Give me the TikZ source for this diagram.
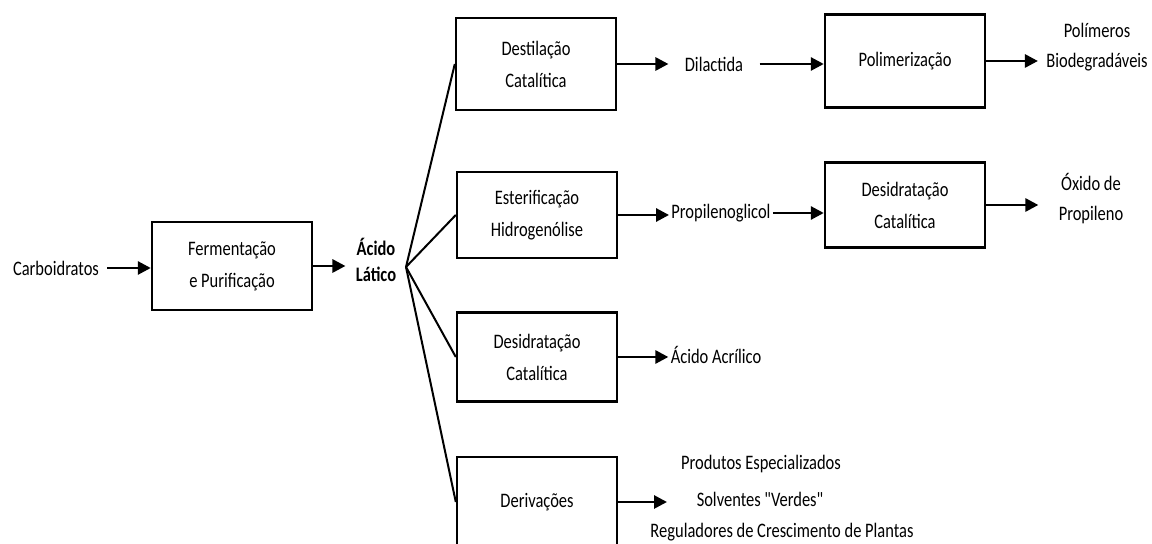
\documentclass[tikz,border=0pt]{standalone}
\usepackage{fontspec}
\setmainfont{Carlito}[FakeStretch=0.8, Ligatures=TeXOff]
\usetikzlibrary{arrows.meta,positioning}

\begin{document}
\begin{tikzpicture}[x=0.5pt,y=-0.5pt,
  b/.style={draw=black, line width=1.2pt, minimum width=80pt, inner sep=0pt,
            align=center, font=\fontsize{10.3}{16}\selectfont},
  t/.style={font=\fontsize{10.3}{15}\selectfont, align=center, inner sep=1pt},
  a/.style={-{Triangle[length=6.5pt,width=6.5pt]}, line width=1.4pt},
  f/.style={line width=1pt}]
  \useasboundingbox (0,0) rectangle (1152,544);
  \clip (0,0) rectangle (1152,544);
  % feed and first step
  \node[t, inner xsep=4pt] (carb) at (56,268) {Carboidratos};
  \node[b, minimum height=44pt] (ferm) at (232,266) {Fermentação\\e Purificação};
  \node[t, inner xsep=5pt, font=\bfseries\fontsize{10.3}{13}\selectfont] (acido) at (376,260) {Ácido\\Lático};
  \coordinate (fan) at (406,267);
  \draw[a] (carb.east) -- (carb.east -| ferm.west);
  \draw[a] (ferm.east) -- (ferm.east -| acido.west);
  % routes from lactic acid
  \node[b, minimum height=46pt] (dest) at (536,64) {Destilação\\Catalítica};
  \node[b, minimum height=43pt] (ester) at (537,215) {Esterificação\\Hidrogenólise};
  \node[b, minimum height=44.5pt] (desid) at (537,357) {Desidratação\\Catalítica};
  \node[b, minimum height=45pt] (deriv) at (537,502) {Derivações};
  \foreach \n in {dest,ester,desid,deriv}{\draw[f] (fan) -- (\n.west);}
  % products
  \node[t, inner xsep=8pt] (dilac) at (714,64) {Dilactida};
  \node[b, minimum height=46.5pt] (polim) at (905,61) {Polimerização};
  \node[t, inner xsep=4pt] (polbio) at (1097,47) {Polímeros\\Biodegradáveis};
  \node[t] (propil) at (721,213) {Propilenoglicol};
  \node[b, minimum height=42.5pt] (desid2) at (905,205) {Desidratação\\Catalítica};
  \node[t, inner xsep=10pt] (oxido) at (1091,199) {Óxido de\\Propileno};
  \node[t] (acril) at (716,355) {Ácido Acrílico};
  \node[t] (espec) at (761,464) {Produtos Especializados};
  \node[t] (solv) at (760,499) {Solventes "Verdes"};
  \node[t] (regul) at (782,532) {Reguladores de Crescimento de Plantas};
  \coordinate (derivtip) at (667,502);
  \draw[a] (dest.east) -- (dilac.west);
  \draw[a] (dilac.east) -- (dilac.east -| polim.west);
  \draw[a] (polim.east) -- (polim.east -| polbio.west);
  \draw[a] (ester.east) -- (ester.east -| propil.west);
  \draw[a] (propil.east) -- (propil.east -| desid2.west);
  \draw[a] (desid2.east) -- (desid2.east -| oxido.west);
  \draw[a] (desid.east) -- (desid.east -| acril.west);
  \draw[a] (deriv.east) -- (derivtip);
\end{tikzpicture}
\end{document}
